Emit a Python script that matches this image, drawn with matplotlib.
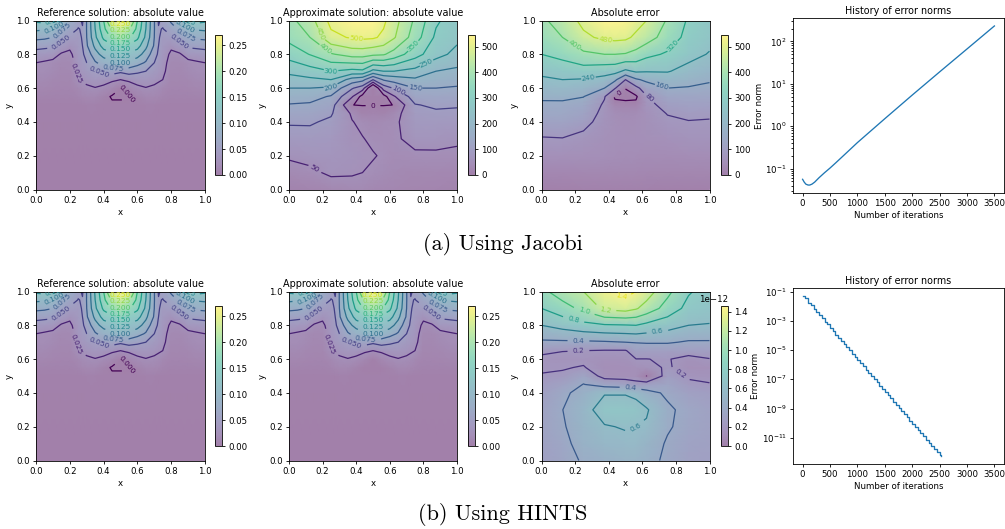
import numpy as np
import matplotlib
matplotlib.use("Agg")
import matplotlib.pyplot as plt
from matplotlib.colors import ListedColormap

# mirrored table for the reference solution (left half of the square)
ref_x_half = [0, .05, .1, .15, .2, .25, .275, .3, .35, .4, .45, .5]
ref_y = [0, .3, .5, .55, .6, .65, .7, .75, .8, .85, .9, .95, 1]
ref_half = [
    [.001, .001, .001, .001, .001, .001, .001, .001, .001, .001, .001, .001],
    [.002, .002, .002, .002, .002, .002, .002, .002, .002, .002, .002, .002],
    [.003, .003, .003, .003, .003, .003, .003, .004, .004, .003, .003, .003],
    [.006, .006, .005, .005, .005, .008, .010, .012, .012, .006, -.002, -.002],
    [.010, .010, .009, .008, .008, .013, .018, .021, .024, .020, .012, .0002],
    [.014, .014, .012, .010, .010, .025, .028, .031, .036, .034, .029, .025],
    [.020, .019, .016, .012, .012, .031, .036, .041, .050, .055, .062, .055],
    [.025, .022, .018, .013, .014, .035, .042, .050, .072, .085, .095, .100],
    [.040, .038, .036, .022, .020, .038, .046, .060, .090, .110, .120, .130],
    [.058, .056, .054, .042, .030, .040, .050, .072, .106, .135, .145, .162],
    [.082, .080, .075, .060, .046, .044, .052, .075, .120, .155, .180, .200],
    [.105, .103, .100, .080, .063, .049, .052, .076, .125, .168, .205, .230],
    [.130, .135, .135, .108, .080, .056, .047, .076, .128, .175, .240, .270],
]

# Jacobi fields
jac_x = [0, .125, .25, .375, .4375, .5, .5625, .625, .75, .875, 1]
approx_y = [0, .1, .2, .3, .4, .45, .5, .55, .6, .65, .7, .8, .9, 1]
approx_jacobi = [
    [10, 15, 25, 30, 30, 25, 22, 22, 18, 15, 12],
    [30, 40, 58, 55, 50, 42, 35, 30, 25, 25, 22],
    [57, 65, 68, 60, 55, 53, 45, 38, 42, 43, 40],
    [80, 83, 78, 55, 52, 42, 40, 42, 65, 64, 58],
    [105, 105, 92, 52, 40, 30, 35, 40, 80, 82, 80],
    [125, 122, 105, 44, 12, 15, 12, 30, 88, 92, 90],
    [147, 143, 122, .2, -1, -1, -1, .2, 97, 108, 105],
    [172, 168, 145, 55, -20, -60, -20, 45, 125, 128, 125],
    [200, 200, 192, 105, 75, -70, 72, 105, 150, 150, 145],
    [231, 240, 250, 180, 165, 100, 155, 170, 192, 175, 168],
    [262, 280, 300, 285, 290, 235, 250, 250, 235, 200, 190],
    [320, 352, 395, 420, 420, 410, 405, 380, 320, 268, 235],
    [365, 400, 487, 505, 510, 507, 490, 455, 375, 290, 262],
    [385, 430, 515, 545, 545, 545, 510, 470, 392, 308, 272],
]

err_y = [0, .1, .2, .3, .4, .45, .5, .52, .55, .6, .65, .7, .8, .9, 1]
err_jacobi = [
    [5, 5, 8, 8, 8, 8, 8, 8, 6, 5, 5],
    [22, 22, 25, 25, 25, 25, 24, 22, 20, 20, 20],
    [50, 50, 48, 45, 42, 40, 40, 38, 38, 40, 40],
    [76, 78, 65, 52, 48, 45, 45, 48, 55, 60, 60],
    [112, 115, 97, 58, 48, 42, 45, 52, 72, 78, 76],
    [132, 132, 115, 62, 42, 35, 40, 55, 82, 90, 88],
    [148, 148, 135, 70, 25, 18, 15, 62, 100, 108, 105],
    [157, 157, 145, 76, 8, 10, 5, 68, 108, 115, 112],
    [172, 175, 162, 85, -10, -40, -10, 75, 125, 125, 125],
    [200, 205, 195, 160, 85, 5, 60, 120, 160, 155, 145],
    [228, 240, 235, 215, 175, 80, 150, 175, 200, 185, 168],
    [258, 272, 285, 270, 265, 225, 250, 245, 245, 215, 190],
    [320, 345, 385, 400, 400, 395, 375, 340, 310, 265, 235],
    [365, 400, 465, 495, 500, 495, 465, 435, 365, 295, 262],
    [385, 435, 500, 540, 545, 535, 510, 480, 392, 310, 272],
]

# HINTS error, in units of 1e-12
hints_x = [0, .125, .25, .375, .5, .5625, .625, .75, .875, 1]
err_hints = [
    [.28, .33, .42, .45, .48, .48, .45, .37, .30, .28],
    [.29, .35, .47, .53, .55, .55, .50, .38, .31, .29],
    [.30, .38, .50, .585, .615, .60, .58, .42, .34, .30],
    [.30, .398, .52, .70, .70, .68, .62, .43, .35, .30],
    [.27, .37, .45, .585, .585, .55, .46, .37, .29, .26],
    [.24, .30, .405, .33, .30, .25, .28, .33, .23, .21],
    [.21, .22, .33, .14, .13, .13, -.001, .27, .18, .16],
    [.18, .19, .21, .12, .12, .14, .15, .22, .13, .14],
    [.18, .16, .17, .14, .15, .198, .198, .21, .15, .195],
    [.22, .205, .20, .19, .19, .28, .27, .27, .27, .27],
    [.37, .37, .37, .38, .40, .41, .42, .42, .38, .38],
    [.60, .67, .74, .78, .79, .80, .75, .68, .60, .59],
    [.80, .92, 1.05, 1.24, 1.28, 1.22, 1.12, .92, .74, .68],
    [.95, 1.10, 1.20, 1.39, 1.46, 1.40, 1.30, 1.05, .82, .72],
]

# error norm histories
jacobi_iters = [0, 30, 60, 100, 130, 170, 220, 300, 400, 500, 600, 700, 850, 1000, 1500, 2000, 2500, 3000, 3500]
jacobi_norms = [.056, .048, .043, .041, .041, .043, .048, .061, .08, .103, .135, .178, .27, .41, 1.5, 5.4, 19, 66, 230]
hints_iters = list(range(0, 2550, 50)) + [2530]
hints_iters = sorted(hints_iters)
hints_log_norms = [-1.3, -1.45, -1.75, -1.95, -2.2, -2.4, -2.6, -2.8, -3.05, -3.25, -3.5,
                   -3.7, -3.95, -4.15, -4.35, -4.6, -4.8, -5.0, -5.25, -5.45, -5.7,
                   -5.9, -6.1, -6.35, -6.55, -6.8, -7.0, -7.2, -7.45, -7.65, -7.9,
                   -8.1, -8.3, -8.55, -8.75, -8.95, -9.2, -9.4, -9.6, -9.85, -10.05,
                   -10.25, -10.5, -10.7, -10.9, -11.15, -11.35, -11.55, -11.8, -12.0, -12.2, -12.25]

ref_levels = [.025, .05, .075, .1, .125, .15, .175, .2, .225, .25]
approx_levels = [0, 50, 100, 150, 200, 250, 300, 350, 400, 450, 500]
err_levels = [0, 80, 160, 240, 320, 400, 480]
hints_levels = [0, .2, .4, .6, .8, 1.0, 1.2, 1.4]

# contour labels: level, then where on that contour the label sits
ref_labels = [(.125, .13, .98), (.1, .12, .945), (.075, .16, .94), (.05, .15, .87), (.025, .24, .69),
              (.125, .86, .985), (.1, .87, .955), (.075, .885, .91), (.05, .84, .87),
              (.05, .37, .685), (.075, .455, .725), (.1, .5, .755), (.125, .5, .79), (.15, .5, .83),
              (.175, .5, .87), (.2, .5, .9), (.225, .5, .94), (.25, .5, .98)]
ref_zero_label = [(0, .54, .565)]
approx_labels = [(50, .15, .115), (0, .5, .5), (100, .65, .585), (150, .75, .6), (200, .25, .6), (250, .82, .745),
                 (300, .25, .7), (350, .74, .85), (400, .2, .81), (450, .19, .92), (500, .4, .89)]
err_labels = [(0, .47, .56), (80, .66, .56), (160, .72, .62), (240, .28, .655), (320, .79, .84), (400, .18, .83), (480, .38, .87)]
hints_labels = [(.2, .22, .645), (.2, .84, .53), (.4, .53, .43), (.4, .22, .71), (.6, .56, .195), (.6, .69, .76),
                (.8, .19, .83), (1.0, .25, .87), (1.2, .38, .885), (1.4, .47, .96)]

W, H = 1005, 529

# viridis at half strength over white, opaque so the gouraud triangles do not show seams
pale_viridis = ListedColormap(.5 * plt.get_cmap("viridis")(np.linspace(0, 1, 256)) + .5)


def px_axes(fig, left, right, top, bottom):
    return fig.add_axes([left / W, 1 - bottom / H, (right - left) / W, (bottom - top) / H])


def field_panel(fig, box, cbox, x, y, z, levels, labels, title, fmt, ticks, vmax, scale=1):
    ax = px_axes(fig, *box)
    z = np.array(z) * scale
    mesh = ax.pcolormesh(x, y, z, shading="gouraud", cmap=pale_viridis, vmin=0, vmax=vmax * scale)
    cs = ax.contour(x, y, z, levels=[v * scale for v in levels], cmap="viridis", vmin=0, vmax=vmax * scale, linewidths=.9)
    # set up labelling once, then keep each label on its own level
    cs.clabel(fmt=fmt, fontsize=5.3, manual=[], inline=True)
    for level, lx, ly in labels:
        cs.labelIndiceList = [levels.index(level)]
        cs.add_label_near(lx, ly, True, 5)
    ax.set_xlim(0, 1)
    ax.set_ylim(0, 1)
    ax.set_title(title, fontsize=6.9, pad=3)
    ax.set_xlabel("x", fontsize=6.2, labelpad=2)
    ax.set_ylabel("y", fontsize=6.2, labelpad=2)
    ax.tick_params(labelsize=6.2, length=2.5, width=.6, pad=2)
    for s in ax.spines.values():
        s.set_linewidth(.6)
    cax = px_axes(fig, *cbox)
    cb = fig.colorbar(mesh, cax=cax, ticks=[t * scale for t in ticks])
    cb.ax.tick_params(labelsize=6.2, length=2.5, width=.6, pad=2)
    cb.outline.set_linewidth(.6)
    cb.ax.yaxis.get_offset_text().set_fontsize(6.2)
    return ax


def norm_panel(fig, box, iters, norms, step=False):
    ax = px_axes(fig, *box)
    if step:
        ax.step(iters, norms, where="post", lw=.95)
    else:
        ax.plot(iters, norms, lw=.95)
    ax.set_yscale("log")
    ax.set_xlim(-175, 3675)
    ax.set_xticks(range(0, 4000, 500))
    ax.set_title("History of error norms", fontsize=6.9, pad=3)
    ax.set_xlabel("Number of iterations", fontsize=6.2, labelpad=2)
    ax.set_ylabel("Error norm", fontsize=6.2, labelpad=1)
    ax.tick_params(which="both", labelsize=6.2, width=.6, pad=2)
    ax.tick_params(which="major", length=2.5)
    ax.tick_params(which="minor", length=1.5)
    for s in ax.spines.values():
        s.set_linewidth(.6)
    return ax


fig = plt.figure(figsize=(W / 100, H / 100), dpi=100)

ref_x = np.array(ref_x_half + [1 - v for v in ref_x_half[-2::-1]])
ref_z = np.array(ref_half)
ref_z = np.hstack([ref_z, ref_z[:, -2::-1]])
ref_fmt = "%.3f"
ref_ticks = [0, .05, .1, .15, .2, .25]
jac_ticks = [0, 100, 200, 300, 400, 500]

# top row: Jacobi
field_panel(fig, (36, 205, 20.5, 189.5), (215, 222, 35, 175), ref_x, ref_y, ref_z,
            [0] + ref_levels, ref_labels + ref_zero_label, "Reference solution: absolute value", ref_fmt, ref_ticks, .27)
field_panel(fig, (289, 457, 20.5, 189.5), (467.5, 475, 35, 175), jac_x, approx_y, approx_jacobi,
            approx_levels, approx_labels, "Approximate solution: absolute value", "%d", jac_ticks, 545)
field_panel(fig, (541.5, 709.5, 20.5, 189.5), (720.5, 728, 35, 175), jac_x, err_y, err_jacobi,
            err_levels, err_labels, "Absolute error", "%d", jac_ticks, 545)
norm_panel(fig, (793, 1004, 18, 193), jacobi_iters, jacobi_norms)

# bottom row: HINTS
field_panel(fig, (36, 205, 291.5, 460.5), (215, 222, 306, 446), ref_x, ref_y, ref_z,
            [0] + ref_levels, ref_labels + ref_zero_label, "Reference solution: absolute value", ref_fmt, ref_ticks, .27)
field_panel(fig, (289, 457, 291.5, 460.5), (467.5, 475, 306, 446), ref_x, ref_y, np.clip(ref_z, .0005, None),
            ref_levels, ref_labels, "Approximate solution: absolute value", ref_fmt, ref_ticks, .27)
field_panel(fig, (541.5, 709.5, 291.5, 460.5), (720.5, 728, 306, 446), hints_x, approx_y, err_hints,
            hints_levels, hints_labels, "Absolute error", lambda v: "%.1f" % (v * 1e12), hints_levels, 1.46, scale=1e-12)
norm_panel(fig, (793, 1004, 288, 464), hints_iters, [10.0 ** v for v in hints_log_norms], step=True)

# subfigure captions
fig.text(503 / W, 1 - 245 / H, "(a) Using Jacobi", family="cmr10", fontsize=16, ha="center", va="center")
fig.text(503 / W, 1 - 515 / H, "(b) Using HINTS", family="cmr10", fontsize=16, ha="center", va="center")

fig.savefig("out.png", dpi=100)
